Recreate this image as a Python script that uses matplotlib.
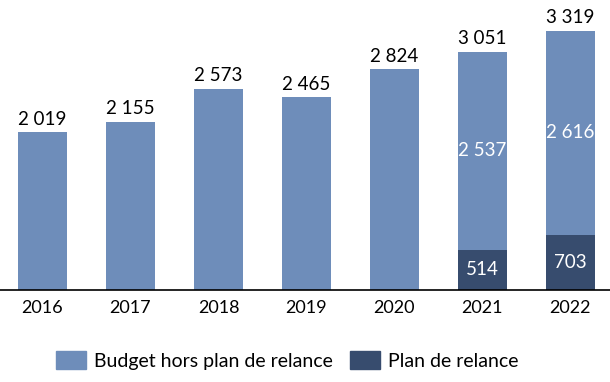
import matplotlib.pyplot as plt
from matplotlib.patches import Patch

years = ['2016', '2017', '2018', '2019', '2020', '2021', '2022']
hors_plan = [2019, 2155, 2573, 2465, 2824, 2537, 2616]
plan_relance = [0, 0, 0, 0, 0, 514, 703]

light = '#6e8dba'
dark = '#374c6e'

plt.rcParams['font.family'] = ['Lato', 'DejaVu Sans']

def fr(v):
    return f'{v:,}'.replace(',', ' ')

fig = plt.figure(figsize=(6.1, 3.82), dpi=100)
ax = fig.add_axes([0, 0.2408, 1, 0.7592])

x = range(len(years))
w = 0.557
ax.bar(x, plan_relance, w, color=dark)
ax.bar(x, hors_plan, w, bottom=plan_relance, color=light)

for i in x:
    total = hors_plan[i] + plan_relance[i]
    ax.text(i, total + 60, fr(total), ha='center', va='bottom', fontsize=13.5)
    if plan_relance[i] > 0:
        ax.text(i, plan_relance[i] + hors_plan[i] / 2, fr(hors_plan[i]),
                ha='center', va='center', fontsize=13.5, color='white')
        ax.text(i, plan_relance[i] / 2, fr(plan_relance[i]),
                ha='center', va='center', fontsize=13.5, color='white')

ax.set_xlim(-0.483, 6.45)
ax.set_ylim(0, 3713)
ax.set_xticks(list(x))
ax.set_xticklabels(years, fontsize=13)
ax.tick_params(axis='x', length=0, pad=7)
ax.set_yticks([])
for s in ['top', 'right', 'left']:
    ax.spines[s].set_visible(False)
ax.spines['bottom'].set_linewidth(1.2)

handles = [Patch(color=light, label='Budget hors plan de relance'),
           Patch(color=dark, label='Plan de relance')]
fig.legend(handles=handles, loc='center', bbox_to_anchor=(0.471, 0.057), ncol=2,
           frameon=False, fontsize=14, handlelength=1.55, handleheight=1.1,
           handletextpad=0.4, columnspacing=0.9)

fig.savefig('out.png', dpi=100)
